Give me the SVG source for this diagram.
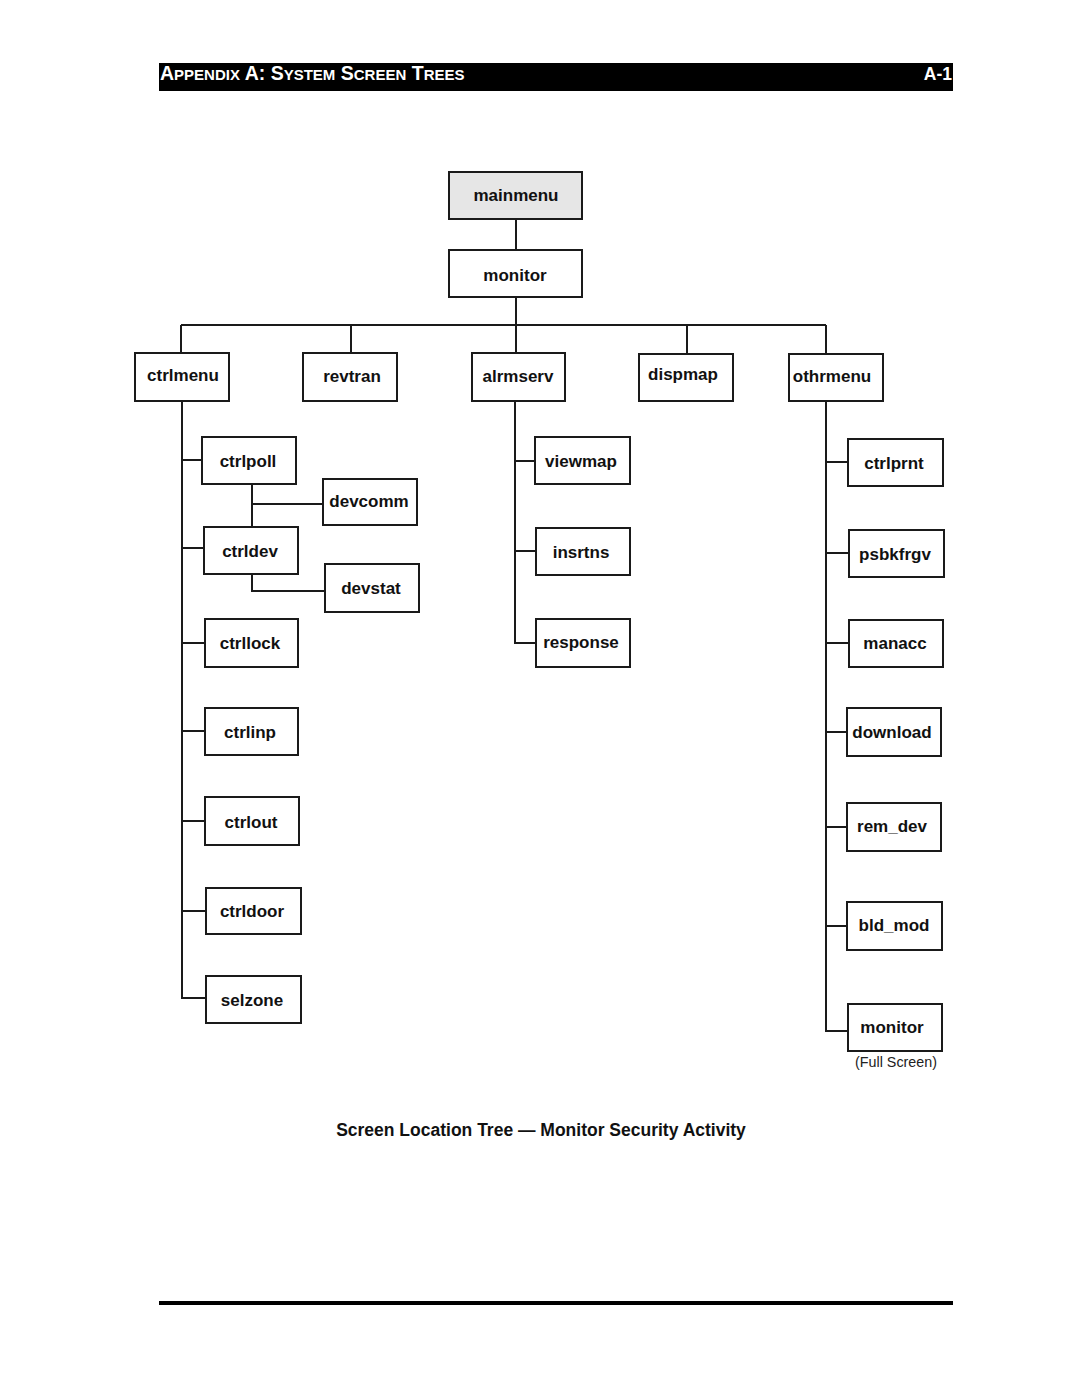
<svg xmlns="http://www.w3.org/2000/svg" width="1080" height="1397" viewBox="0 0 1080 1397">
<style>
.box{fill:#fff;stroke:#1a1a1a;stroke-width:2}
.root{fill:#e6e6e6;stroke:#1a1a1a;stroke-width:2}
.lbl{font-family:"Liberation Sans",Arial,sans-serif;font-weight:bold;font-size:17px;fill:#111;text-anchor:middle}
.conn{fill:none;stroke:#1a1a1a;stroke-width:2}
.hdr{font-family:"Liberation Sans",Arial,sans-serif;font-weight:bold;fill:#fff}
</style>
<rect x="0" y="0" width="1080" height="1397" fill="#fff"/>
<g id="header">
<rect x="159" y="63" width="794" height="28" fill="#000"/>
<text class="hdr" x="160" y="80" font-size="19.5">A<tspan font-size="15">PPENDIX</tspan> A: S<tspan font-size="15">YSTEM</tspan> S<tspan font-size="15">CREEN</tspan> T<tspan font-size="15">REES</tspan></text>
<text class="hdr" x="952" y="80" font-size="17.5" text-anchor="end">A-1</text>
</g>
<g id="connectors">
<path class="conn" d="M516 219V250M516 297V325M181 325H826M181 325V353M351 325V353M516 325V353M687 325V354M826 325V354"/>
<path class="conn" d="M182 401V998H206M182 460H202M182 548H204M182 643H205M182 731H205M182 821H205M182 911H206"/>
<path class="conn" d="M252 484V527M252 504H323M252 574V591H325"/>
<path class="conn" d="M515 401V643H536M515 461H535M515 551H536"/>
<path class="conn" d="M826 401V1031H848M826 462H848M826 553H849M826 643H849M826 732H847M826 827H847M826 926H847"/>
</g>
<g id="mainmenu"><rect class="root" x="449" y="172" width="133" height="47"/><text class="lbl" x="516" y="201">mainmenu</text></g>
<g id="monitor"><rect class="box" x="449" y="250" width="133" height="47"/><text class="lbl" x="515" y="281">monitor</text></g>
<g id="ctrlmenu"><rect class="box" x="135" y="353" width="94" height="48"/><text class="lbl" x="183" y="381">ctrlmenu</text></g>
<g id="revtran"><rect class="box" x="303" y="353" width="94" height="48"/><text class="lbl" x="352" y="382">revtran</text></g>
<g id="alrmserv"><rect class="box" x="472" y="353" width="93" height="48"/><text class="lbl" x="518" y="382">alrmserv</text></g>
<g id="dispmap"><rect class="box" x="639" y="354" width="94" height="47"/><text class="lbl" x="683" y="380">dispmap</text></g>
<g id="othrmenu"><rect class="box" x="789" y="354" width="94" height="47"/><text class="lbl" x="832" y="382">othrmenu</text></g>
<g id="ctrlpoll"><rect class="box" x="202" y="437" width="94" height="47"/><text class="lbl" x="248" y="467">ctrlpoll</text></g>
<g id="devcomm"><rect class="box" x="323" y="479" width="94" height="46"/><text class="lbl" x="369" y="507">devcomm</text></g>
<g id="ctrldev"><rect class="box" x="204" y="527" width="94" height="47"/><text class="lbl" x="250" y="557">ctrldev</text></g>
<g id="devstat"><rect class="box" x="325" y="564" width="94" height="48"/><text class="lbl" x="371" y="594">devstat</text></g>
<g id="ctrllock"><rect class="box" x="205" y="619" width="93" height="48"/><text class="lbl" x="250" y="649">ctrllock</text></g>
<g id="ctrlinp"><rect class="box" x="205" y="708" width="93" height="47"/><text class="lbl" x="250" y="738">ctrlinp</text></g>
<g id="ctrlout"><rect class="box" x="205" y="797" width="94" height="48"/><text class="lbl" x="251" y="828">ctrlout</text></g>
<g id="ctrldoor"><rect class="box" x="206" y="888" width="95" height="46"/><text class="lbl" x="252" y="917">ctrldoor</text></g>
<g id="selzone"><rect class="box" x="206" y="976" width="95" height="47"/><text class="lbl" x="252" y="1006">selzone</text></g>
<g id="viewmap"><rect class="box" x="535" y="437" width="95" height="47"/><text class="lbl" x="581" y="467">viewmap</text></g>
<g id="insrtns"><rect class="box" x="536" y="528" width="94" height="47"/><text class="lbl" x="581" y="558">insrtns</text></g>
<g id="response"><rect class="box" x="536" y="619" width="94" height="48"/><text class="lbl" x="581" y="648">response</text></g>
<g id="ctrlprnt"><rect class="box" x="848" y="439" width="95" height="47"/><text class="lbl" x="894" y="469">ctrlprnt</text></g>
<g id="psbkfrgv"><rect class="box" x="849" y="530" width="95" height="47"/><text class="lbl" x="895" y="560">psbkfrgv</text></g>
<g id="manacc"><rect class="box" x="849" y="620" width="94" height="47"/><text class="lbl" x="895" y="649">manacc</text></g>
<g id="download"><rect class="box" x="847" y="708" width="94" height="48"/><text class="lbl" x="892" y="738">download</text></g>
<g id="rem_dev"><rect class="box" x="847" y="803" width="94" height="48"/><text class="lbl" x="892" y="832">rem_dev</text></g>
<g id="bld_mod"><rect class="box" x="847" y="902" width="95" height="48"/><text class="lbl" x="894" y="931">bld_mod</text></g>
<g id="monitor_full"><rect class="box" x="848" y="1004" width="94" height="47"/><text class="lbl" x="892" y="1033">monitor</text>
<text x="896" y="1067" font-family="Liberation Sans, Arial, sans-serif" font-size="14.3" fill="#222" text-anchor="middle">(Full Screen)</text></g>
<g id="caption"><text class="lbl" x="541" y="1136" style="font-size:17.5px">Screen Location Tree — Monitor Security Activity</text></g>
<rect id="footer-rule" x="159" y="1301" width="794" height="4" fill="#000"/>
</svg>
